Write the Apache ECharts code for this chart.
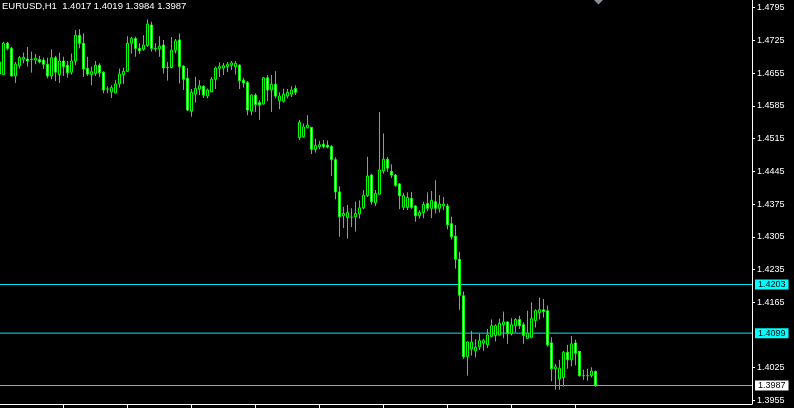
<!DOCTYPE html>
<html><head><meta charset="utf-8">
<script src="https://cdn.jsdelivr.net/npm/echarts@6/dist/echarts.min.js"></script>
<style>html,body{margin:0;padding:0;background:#000}#c{width:794px;height:408px}</style>
</head><body><div id="c"></div>
<script>
const symbol = 'EURUSD,H1';
const opens = [1.4679,1.4652,1.4719,1.4708,1.4649,1.4671,1.4685,1.4685,1.4684,1.4683,
1.4684,1.4683,1.4674,1.4649,1.4688,1.4652,1.4681,1.4672,1.4657,1.4681,
1.4736,1.4719,1.4665,1.4652,1.4654,1.4672,1.4657,1.4621,1.4615,1.4613,
1.4632,1.4652,1.4659,1.4719,1.4729,1.4708,1.4706,1.4714,1.4758,1.4708,
1.4707,1.4715,1.4668,1.4667,1.4704,1.4726,1.4670,1.4644,1.4574,1.4610,
1.4621,1.4627,1.4606,1.4615,1.4642,1.4665,1.4666,1.4669,1.4672,1.4669,
1.4672,1.4640,1.4635,1.4574,1.4608,1.4592,1.4589,1.4645,1.4619,1.4631,
1.4596,1.4595,1.4606,1.4610,1.4622,1.4517,1.4519,1.4538,1.4539,1.4492,
1.4498,1.4503,1.4501,1.4498,1.4470,1.4401,1.4350,1.4346,1.4347,1.4348,
1.4354,1.4367,1.4393,1.4437,1.4378,1.4396,1.4446,1.4471,1.4445,1.4437,
1.4418,1.4368,1.4368,1.4387,1.4371,1.4350,1.4357,1.4376,1.4366,1.4380,
1.4366,1.4371,1.4371,1.4333,1.4306,1.4257,1.4179,1.4049,1.4065,1.4061,
1.4070,1.4078,1.4074,1.4092,1.4094,1.4095,1.4117,1.4123,1.4098,1.4115,
1.4128,1.4117,1.4088,1.4090,1.4126,1.4143,1.4149,1.4147,1.4078,1.4023,
1.4001,1.4004,1.4058,1.4042,1.4078,1.4060,1.4008,1.4008,1.4008,1.4017];
const highs = [1.4687,1.4722,1.4722,1.4711,1.4679,1.4692,1.4699,1.4711,1.4701,1.4696,
1.4692,1.4688,1.4688,1.4706,1.4692,1.4699,1.4690,1.4681,1.4697,1.4747,
1.4749,1.4740,1.4690,1.4669,1.4681,1.4676,1.4659,1.4627,1.4629,1.4640,
1.4665,1.4667,1.4734,1.4733,1.4733,1.4719,1.4736,1.4770,1.4765,1.4719,
1.4734,1.4726,1.4679,1.4732,1.4728,1.4740,1.4672,1.4666,1.4621,1.4647,
1.4640,1.4629,1.4622,1.4647,1.4669,1.4678,1.4677,1.4679,1.4681,1.4681,
1.4674,1.4645,1.4638,1.4610,1.4612,1.4597,1.4647,1.4651,1.4651,1.4659,
1.4614,1.4622,1.4621,1.4627,1.4629,1.4555,1.4547,1.4565,1.4540,1.4515,
1.4510,1.4512,1.4511,1.4501,1.4475,1.4413,1.4369,1.4373,1.4366,1.4380,
1.4383,1.4405,1.4476,1.4440,1.4405,1.4572,1.4526,1.4476,1.4460,1.4439,
1.4420,1.4399,1.4400,1.4401,1.4373,1.4362,1.4380,1.4400,1.4403,1.4426,
1.4394,1.4390,1.4376,1.4348,1.4330,1.4273,1.4188,1.4081,1.4104,1.4086,
1.4098,1.4087,1.4108,1.4128,1.4118,1.4130,1.4145,1.4124,1.4131,1.4131,
1.4136,1.4122,1.4147,1.4165,1.4150,1.4175,1.4172,1.4158,1.4090,1.4033,
1.4042,1.4061,1.4074,1.4093,1.4085,1.4061,1.4021,1.4023,1.4026,1.4019];
const lows = [1.4647,1.4651,1.4704,1.4648,1.4634,1.4665,1.4676,1.4669,1.4656,1.4674,
1.4676,1.4664,1.4644,1.4642,1.4638,1.4634,1.4649,1.4645,1.4652,1.4672,
1.4708,1.4647,1.4649,1.4629,1.4649,1.4647,1.4612,1.4612,1.4602,1.4612,
1.4624,1.4632,1.4658,1.4697,1.4690,1.4696,1.4703,1.4711,1.4701,1.4701,
1.4690,1.4654,1.4639,1.4665,1.4697,1.4633,1.4619,1.4574,1.4562,1.4592,
1.4608,1.4602,1.4601,1.4614,1.4621,1.4647,1.4651,1.4657,1.4662,1.4652,
1.4621,1.4624,1.4565,1.4565,1.4572,1.4555,1.4588,1.4595,1.4572,1.4601,
1.4578,1.4592,1.4601,1.4604,1.4608,1.4512,1.4517,1.4537,1.4482,1.4485,
1.4492,1.4494,1.4494,1.4435,1.4385,1.4305,1.4324,1.4301,1.4326,1.4316,
1.4344,1.4364,1.4390,1.4374,1.4371,1.4395,1.4440,1.4444,1.4431,1.4412,
1.4364,1.4362,1.4362,1.4364,1.4337,1.4344,1.4345,1.4360,1.4345,1.4355,
1.4357,1.4362,1.4321,1.4299,1.4237,1.4149,1.4044,1.4008,1.4051,1.4047,
1.4063,1.4061,1.4067,1.4090,1.4081,1.4094,1.4088,1.4076,1.4094,1.4100,
1.4108,1.4076,1.4087,1.4088,1.4111,1.4128,1.4132,1.4070,1.3996,1.3978,
1.3978,1.3985,1.4023,1.4028,1.4030,1.4006,1.3999,1.3997,1.4004,1.3984];
const closes = [1.4653,1.4719,1.4708,1.4649,1.4674,1.4688,1.4689,1.4681,1.4685,1.4687,
1.4679,1.4674,1.4649,1.4688,1.4657,1.4681,1.4669,1.4656,1.4681,1.4736,
1.4719,1.4664,1.4653,1.4658,1.4672,1.4656,1.4619,1.4621,1.4624,1.4632,
1.4653,1.4659,1.4719,1.4729,1.4708,1.4703,1.4715,1.4760,1.4708,1.4707,
1.4713,1.4666,1.4667,1.4704,1.4724,1.4669,1.4642,1.4576,1.4614,1.4622,
1.4628,1.4608,1.4619,1.4642,1.4666,1.4669,1.4671,1.4674,1.4677,1.4676,
1.4639,1.4634,1.4576,1.4608,1.4588,1.4587,1.4645,1.4619,1.4631,1.4606,
1.4606,1.4610,1.4614,1.4619,1.4614,1.4550,1.4540,1.4544,1.4492,1.4500,
1.4502,1.4498,1.4497,1.4470,1.4401,1.4348,1.4355,1.4357,1.4347,1.4355,
1.4367,1.4394,1.4435,1.4380,1.4398,1.4448,1.4471,1.4452,1.4437,1.4415,
1.4393,1.4393,1.4389,1.4368,1.4350,1.4357,1.4374,1.4366,1.4383,1.4366,
1.4375,1.4375,1.4331,1.4305,1.4257,1.4180,1.4049,1.4080,1.4080,1.4069,
1.4083,1.4083,1.4095,1.4115,1.4115,1.4120,1.4123,1.4098,1.4117,1.4128,
1.4115,1.4094,1.4099,1.4130,1.4147,1.4149,1.4145,1.4074,1.4023,1.4027,
1.4024,1.4058,1.4042,1.4076,1.4056,1.4008,1.4008,1.4008,1.4018,1.3987];
const priceTicks = [1.4795,1.4725,1.4655,1.4585,1.4515,1.4445,1.4375,1.4305,1.4235,1.4165,1.4025,1.3955];
const timeTickBars = [16,32,48,64,80,96,112,128,144];
const levels = [1.4203, 1.4099, 1.3987];

const levelLine = ['#00e5ee', '#00e5ee', '#9aa3ad'];
const levelBg = ['#00ffff', '#00ffff', '#ffffff'];

const X_MIN = 0.175, X_MAX = 188.175;
const Y_MIN = 1.394744, Y_MAX = 1.481143;
const chart = echarts.init(document.getElementById('c'), null, {renderer: 'canvas'});
const candleData = opens.map((o, i) => [i, o, closes[i], lows[i], highs[i]]);
const last = opens.length - 1;
const titleText = symbol + '  ' + [opens[last], highs[last], lows[last], closes[last]].map(v => v.toFixed(4)).join(' ');

const levelSeries = levels.map((v, i) => ({
  type: 'line', silent: true, animation: false, symbol: 'none', showSymbol: false,
  data: [[X_MIN, v], [X_MAX, v]],
  lineStyle: {color: levelLine[i], width: 1, type: 'solid', opacity: 1},
  itemStyle: {color: levelLine[i]},
  emphasis: {disabled: true},
  z: 1,
  endLabel: {
    show: true, distance: 3,
    formatter: v.toFixed(4), color: '#000', backgroundColor: levelBg[i],
    fontSize: 9, fontFamily: 'Liberation Sans', lineHeight: 10, padding: [0, 3, 0, 3]
  }
}));

const option = {
  backgroundColor: '#000',
  animation: false,
  textStyle: {fontFamily: 'Liberation Sans'},
  title: {
    text: titleText, left: 2, top: 1, padding: 0,
    textStyle: {color: '#fff', fontSize: 9.5, fontWeight: 'normal', fontFamily: 'Liberation Sans'}
  },
  grid: {left: 0, right: 42, top: 0, bottom: 4, containLabel: false},
  xAxis: {
    type: 'value', min: X_MIN, max: X_MAX,
    axisLine: {show: true, onZero: false, lineStyle: {color: '#fff', width: 1}},
    axisTick: {show: true, customValues: timeTickBars, length: 4, lineStyle: {color: '#fff'}},
    axisLabel: {show: false},
    splitLine: {show: false}
  },
  yAxis: {
    type: 'value', position: 'right', min: Y_MIN, max: Y_MAX, scale: true,
    axisLine: {show: true, lineStyle: {color: '#fff', width: 1}},
    axisTick: {show: true, customValues: priceTicks, length: 3, lineStyle: {color: '#fff'}},
    axisLabel: {
      show: true, customValues: priceTicks, color: '#fff', fontSize: 9,
      fontFamily: 'Liberation Sans', margin: 5, padding: [0, 0, 1, 0],
      formatter: v => Number(v).toFixed(4)
    },
    splitLine: {show: false}
  },
  series: [{
    type: 'candlestick',
    data: candleData,
    barWidth: 2,
    z: 3,
    itemStyle: {
      color: '#000', color0: '#ffffff',
      borderColor: '#00ff00', borderColor0: '#00ff00', borderColorDoji: '#00ff00',
      borderWidth: 1
    }
  }].concat(levelSeries),
  graphic: [{
    type: 'polygon', silent: true,
    shape: {points: [[594, 0], [603, 0], [598.5, 4.5]]},
    style: {fill: '#8a8f96'}
  }]
};
chart.setOption(option);
</script>
</body></html>
